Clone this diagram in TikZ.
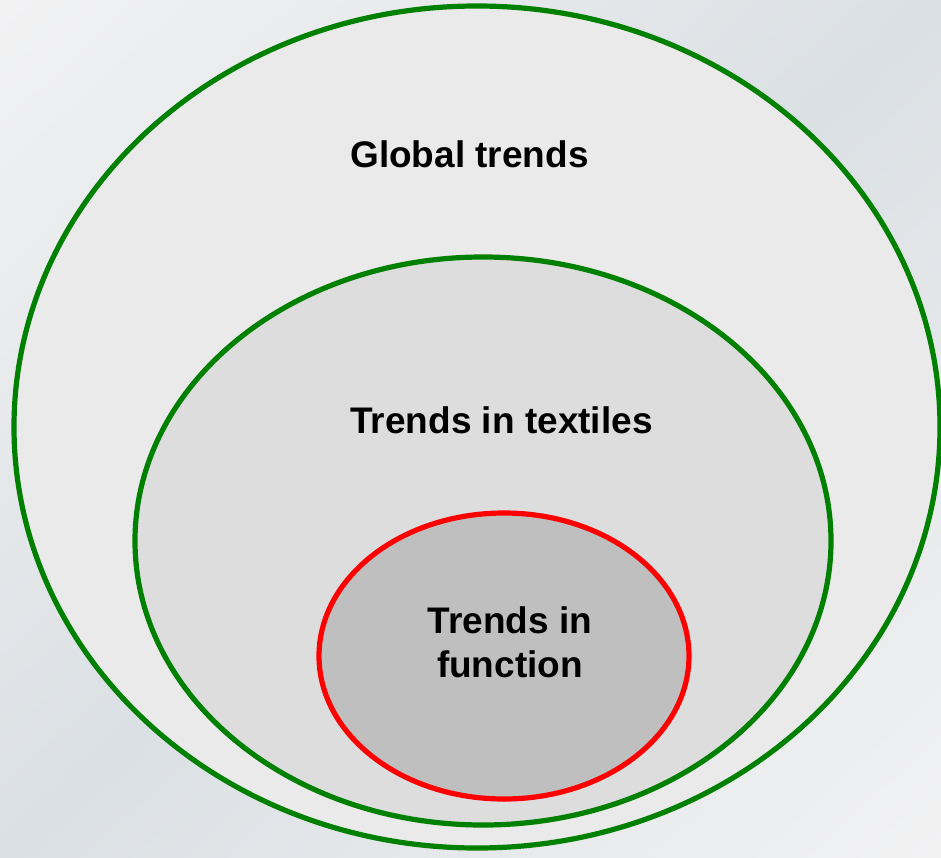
\documentclass[tikz,border=0pt]{standalone}
\usepackage{fontspec}
\setmainfont{Liberation Sans}
\usetikzlibrary{shapes.geometric}
\definecolor{bglight}{HTML}{F2F2F3}
\definecolor{bgdark}{HTML}{DBE0E4}
\definecolor{ringgreen}{HTML}{008000}
\definecolor{ringred}{HTML}{FF0000}
\definecolor{fillouter}{HTML}{EAEAEA}
\definecolor{fillmiddle}{HTML}{DDDDDD}
\definecolor{fillinner}{HTML}{BFBFBF}
\pgfdeclarehorizontalshading{bgshade}{1400bp}{color(0bp)=(bglight); color(70bp)=(bglight); color(700bp)=(bgdark); color(1330bp)=(bglight); color(1400bp)=(bglight)}
\tikzset{
  ring/.style={ellipse, inner sep=0pt, outer sep=0pt, line width=5.2bp},
  label/.style={font=\bfseries\fontsize{37bp}{44bp}\selectfont, text=black, inner sep=0pt, align=center},
}
\begin{document}
\begin{tikzpicture}[x=1bp,y=-1bp]
\useasboundingbox (0,0) rectangle (941,858);
\begin{scope}
\clip (0,0) rectangle (941,858);
\node[inner sep=0pt, outer sep=0pt, rotate=-47.6] (bg) at (470.5,429) {\pgfuseshading{bgshade}};
\end{scope}
\node[ring, draw=ringgreen, fill=fillouter, minimum width=926bp, minimum height=842bp] (outer) at (477,427) {};
\node[ring, draw=ringgreen, fill=fillmiddle, minimum width=696bp, minimum height=568bp] (middle) at (483,541) {};
\node[ring, draw=ringred, fill=fillinner, minimum width=370bp, minimum height=286bp] (inner) at (504,656) {};
\node[label, anchor=base] (tglobal) at (469.5,167) {Global trends};
\node[label, anchor=base] (ttextiles) at (501.5,433) {Trends in textiles};
\node[label, anchor=base] (tfunction) at (510,677) {Trends in\\function};
\end{tikzpicture}
\end{document}
